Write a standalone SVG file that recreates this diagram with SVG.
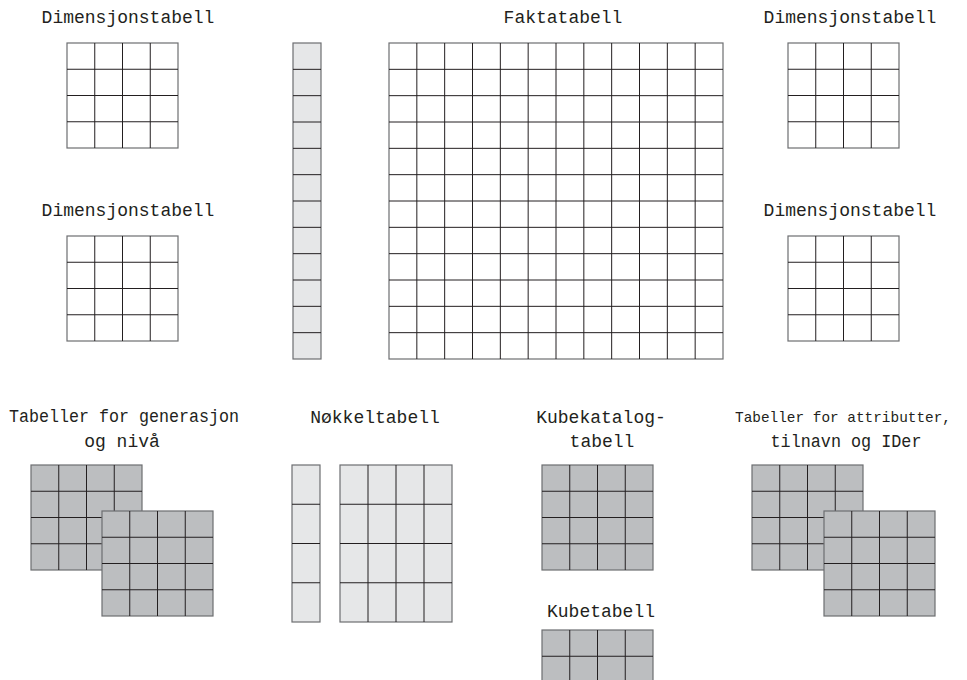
<svg xmlns="http://www.w3.org/2000/svg" xmlns:xlink="http://www.w3.org/1999/xlink" width="967" height="680" viewBox="0 0 967 680">
<style>
text{font-family:"Liberation Mono","DejaVu Sans Mono",monospace;font-size:18px;fill:#231f20;text-anchor:middle}
.ol{stroke:#6d6e71;stroke-width:1.2}
.in{stroke:#231f20;stroke-width:1;fill:none}
.w{fill:#ffffff}
.lg{fill:#e6e7e8}
.dg{fill:#bcbec0}
</style>
<defs>
<g id="grid4">
<rect x="0" y="0" width="111" height="105" class="ol"/>
<path class="in" d="M27.75 0V105M55.5 0V105M83.25 0V105M0 26.25H111M0 52.5H111M0 78.75H111"/>
</g>
</defs>
<rect width="967" height="680" fill="#ffffff"/>
<g id="dim-top-left">
<text x="128" y="23">Dimensjonstabell</text>
<use xlink:href="#grid4" x="67" y="43" class="w"/>
</g>
<g id="dim-bottom-left">
<text x="128" y="216">Dimensjonstabell</text>
<use xlink:href="#grid4" x="67" y="236" class="w"/>
</g>
<g id="dim-top-right">
<text x="850" y="23">Dimensjonstabell</text>
<use xlink:href="#grid4" x="788" y="43" class="w"/>
</g>
<g id="dim-bottom-right">
<text x="850" y="216">Dimensjonstabell</text>
<use xlink:href="#grid4" x="788" y="236" class="w"/>
</g>
<g id="key-strip">
<rect x="293" y="43" width="28" height="316" class="ol lg"/>
<path class="in" d="M293 69.33H321M293 95.67H321M293 122H321M293 148.33H321M293 174.67H321M293 201H321M293 227.33H321M293 253.67H321M293 280H321M293 306.33H321M293 332.67H321"/>
</g>
<g id="fact">
<text x="563" y="23">Faktatabell</text>
<rect x="389" y="43" width="334" height="316" class="ol w"/>
<path class="in" d="M416.83 43V359M444.67 43V359M472.5 43V359M500.33 43V359M528.17 43V359M556 43V359M583.83 43V359M611.67 43V359M639.5 43V359M667.33 43V359M695.17 43V359M389 69.33H723M389 95.67H723M389 122H723M389 148.33H723M389 174.67H723M389 201H723M389 227.33H723M389 253.67H723M389 280H723M389 306.33H723M389 332.67H723"/>
</g>
<g id="gen-level">
<text x="124" y="422" textLength="230" lengthAdjust="spacingAndGlyphs">Tabeller for generasjon</text>
<text x="122" y="447">og nivå</text>
<use xlink:href="#grid4" x="31" y="465" class="dg"/>
<use xlink:href="#grid4" x="102" y="511" class="dg"/>
</g>
<g id="key-table">
<text x="375" y="423">Nøkkeltabell</text>
<rect x="292" y="465" width="28" height="157" class="ol lg"/>
<path class="in" d="M292 504.25H320M292 543.5H320M292 582.75H320"/>
<rect x="340" y="465" width="112" height="157" class="ol lg"/>
<path class="in" d="M368 465V622M396 465V622M424 465V622M340 504.25H452M340 543.5H452M340 582.75H452"/>
</g>
<g id="cube-catalog">
<text x="601" y="423">Kubekatalog-</text>
<text x="602" y="447">tabell</text>
<use xlink:href="#grid4" x="542" y="465" class="dg"/>
</g>
<g id="cube">
<text x="601" y="617">Kubetabell</text>
<use xlink:href="#grid4" x="542" y="630" class="dg"/>
</g>
<g id="attr-alias">
<text x="843" y="422" style="font-size:14.4px">Tabeller for attributter,</text>
<text x="846" y="447" textLength="151" lengthAdjust="spacingAndGlyphs">tilnavn og IDer</text>
<use xlink:href="#grid4" x="752" y="465" class="dg"/>
<use xlink:href="#grid4" x="824" y="511" class="dg"/>
</g>
<g id="connectors"/>
</svg>
